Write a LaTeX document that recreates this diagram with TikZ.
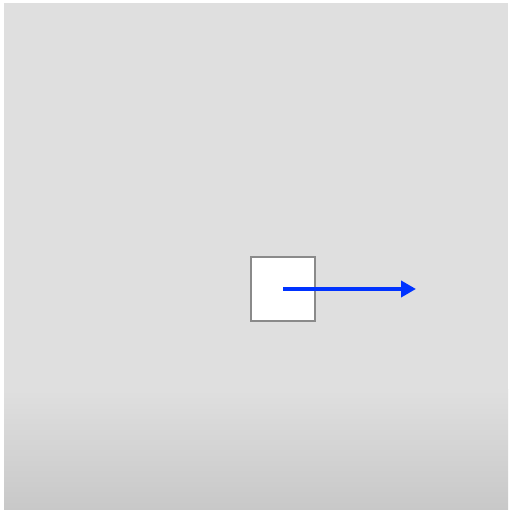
\documentclass[tikz,border=0pt]{standalone}
\usepackage{tikz}
\usetikzlibrary{arrows.meta}
\definecolor{panelgray}{HTML}{DFDFDF}
\definecolor{panellow}{HTML}{C8C8C8}
\definecolor{boxedge}{HTML}{8A8A8A}
\definecolor{vecblue}{HTML}{0033FF}
\tikzset{
	box/.style={draw=boxedge, fill=white, line width=2.5pt, minimum size=64pt, inner sep=0pt},
	vec/.style={-{Triangle[length=15pt,width=16pt]}, line width=4.5pt, vecblue}
}

\begin{document}
\begin{tikzpicture}[x=1pt,y=1pt]
		\useasboundingbox (0,0) rectangle (510,513);
		\fill[white] (0,0) rectangle (510,513);
		\fill[panelgray] (4,123) rectangle (508,510);
		\shade[top color=panelgray, bottom color=panellow] (4,3) rectangle (508,123);
		\node[box] (body) at (283,224) {};
		\coordinate (tip) at (416,224);
		\draw[vec] (body.center) to (tip);
		
		\end{tikzpicture}
\end{document}
